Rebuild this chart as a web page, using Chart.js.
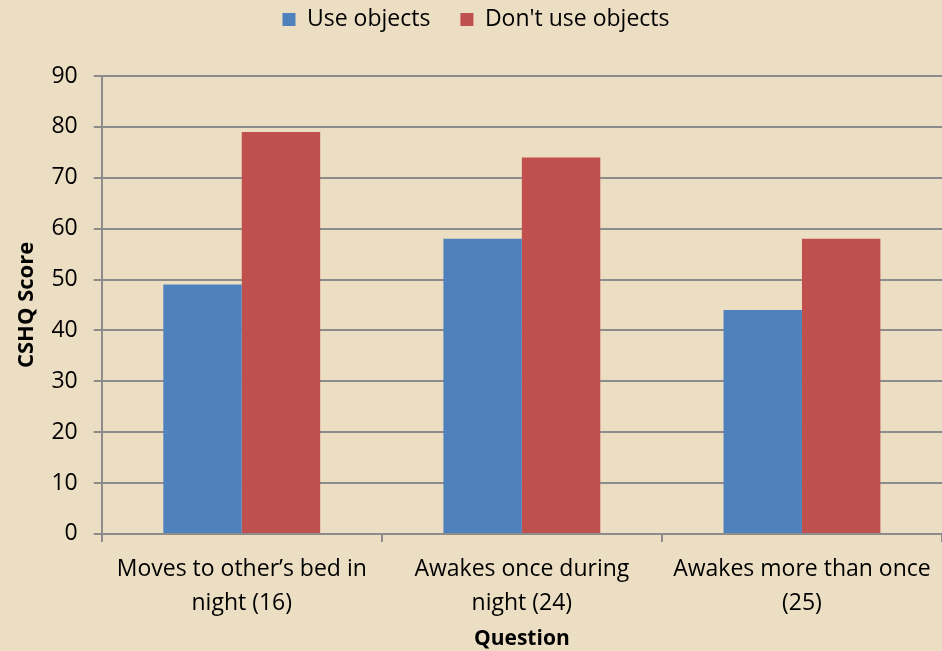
<!DOCTYPE html>
<html>
<head>
<meta charset="utf-8">
<script src="https://cdn.jsdelivr.net/npm/chart.js@4"></script>
<style>
  html, body { margin: 0; padding: 0; background: #ecdec3; }
  #wrap { width: 942px; height: 651px; position: relative; }
</style>
</head>
<body>
<div id="wrap"><canvas id="chart"></canvas></div>
<script>
// Categories (multi-line labels)
const questions = [
  ["Moves to other\u2019s bed in", "night (16)"],
  ["Awakes once during", "night (24)"],
  ["Awakes more than once", "(25)"],
];

// Series values
const useObjects = [49, 58, 44];
const dontUseObjects = [79, 74, 58];

// Y axis range
const yMin = 0;
const yMax = 90;
const yStep = 10;

const FONT = "'Open Sans', 'Liberation Sans', sans-serif";
const gridGrey = "#8c8c8c";

// extra room under the legend
const legendGap = {
  id: "legendGap",
  beforeInit(chart) {
    const origFit = chart.legend.fit;
    chart.legend.fit = function () {
      origFit.call(this);
      this.height += 35;
    };
  },
};

new Chart(document.getElementById("chart"), {
  type: "bar",
  data: {
    labels: questions,
    datasets: [
      {
        label: "Use objects",
        data: useObjects,
        backgroundColor: "#4f81bd",
      },
      {
        label: "Don't use objects",
        data: dontUseObjects,
        backgroundColor: "#c0504d",
      },
    ],
  },
  plugins: [legendGap],
  options: {
    responsive: true,
    maintainAspectRatio: false,
    animation: false,
    categoryPercentage: 0.56,
    barPercentage: 1,
    layout: { padding: { top: -22, right: 0, left: 10, bottom: 0 } },
    plugins: {
      tooltip: { enabled: false },
      legend: {
        position: "top",
        labels: {
          color: "#000",
          font: { family: FONT, size: 23 },
          boxWidth: 13,
          boxHeight: 13,
          padding: 30,
        },
      },
    },
    scales: {
      x: {
        grid: {
          display: true,
          drawOnChartArea: false,
          color: gridGrey,
          lineWidth: 2,
          tickLength: 8,
        },
        border: { color: gridGrey, width: 2 },
        ticks: {
          color: "#000",
          font: { family: FONT, size: 23, lineHeight: 1.5 },
          maxRotation: 0,
          padding: 10,
        },
        title: {
          display: true,
          text: "Question",
          color: "#000",
          font: { family: FONT, size: 21, weight: "bold", lineHeight: 1.1 },
          padding: { top: -3, bottom: 0 },
        },
      },
      y: {
        min: yMin,
        max: yMax,
        grid: {
          color: gridGrey,
          lineWidth: 2,
          tickLength: 8,
        },
        border: { color: gridGrey, width: 2 },
        ticks: {
          stepSize: yStep,
          color: "#000",
          font: { family: FONT, size: 23 },
          padding: 16,
        },
        title: {
          display: true,
          text: "CSHQ Score",
          color: "#000",
          font: { family: FONT, size: 22, weight: "bold" },
          padding: { top: 4, bottom: -5 },
        },
      },
    },
  },
});
</script>
</body>
</html>
